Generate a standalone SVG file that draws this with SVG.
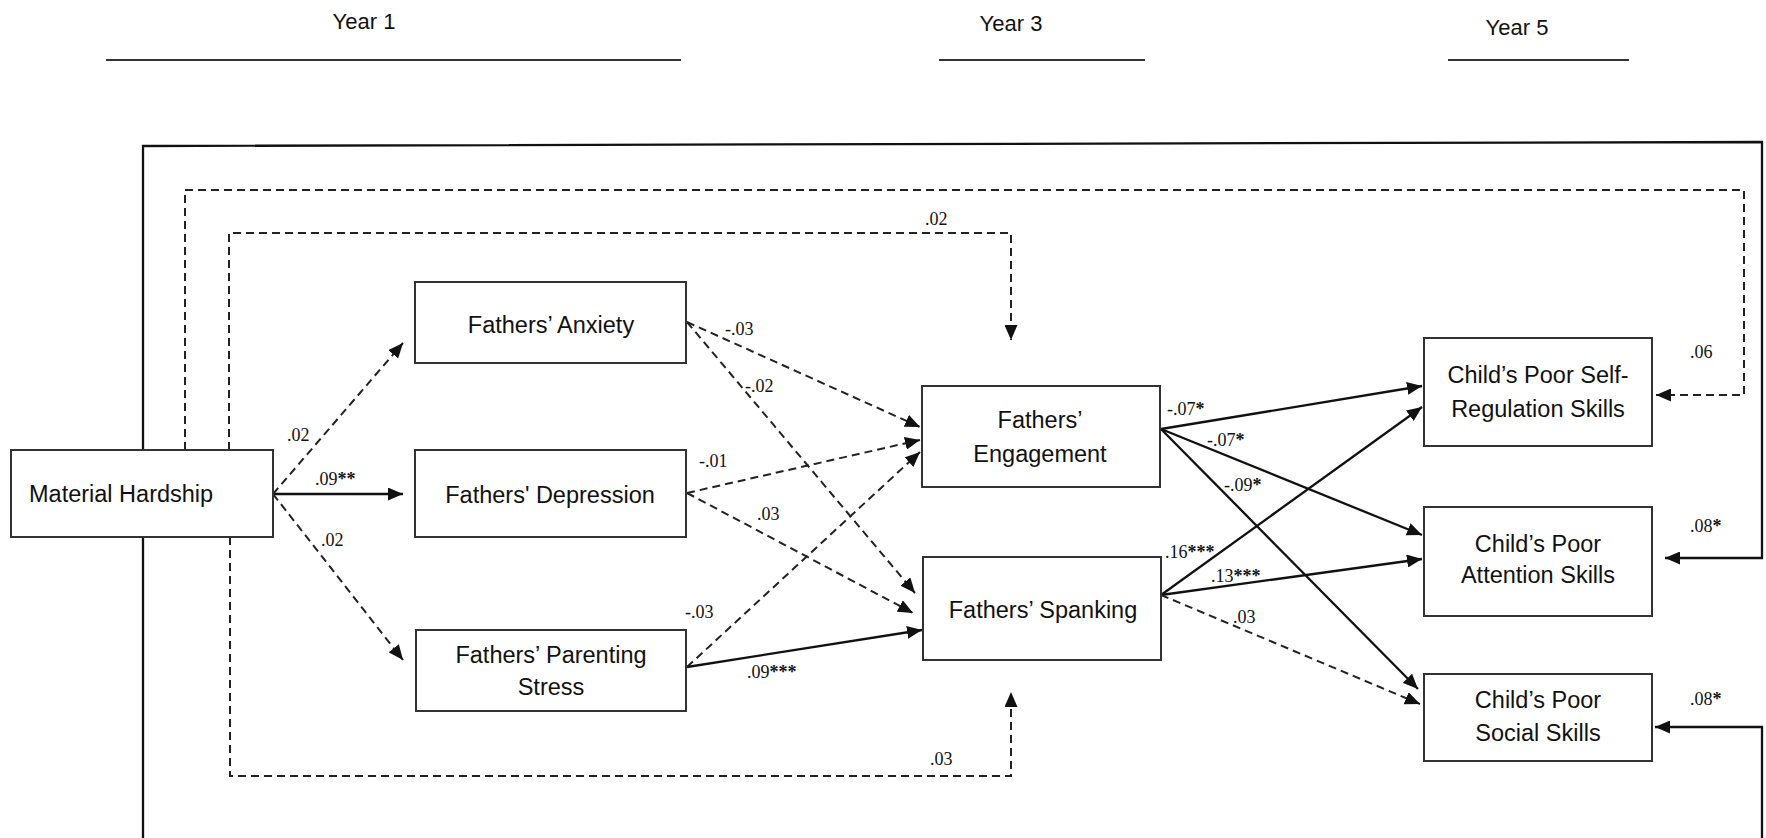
<svg xmlns="http://www.w3.org/2000/svg" width="1766" height="838" viewBox="0 0 1766 838">
<style>
  .box{fill:#fff;stroke:#333;stroke-width:2}
  .nt{font-family:"Liberation Sans",Arial,sans-serif;font-size:23.5px;fill:#111;text-anchor:middle}
  .yr{font-family:"Liberation Sans",Arial,sans-serif;font-size:22px;fill:#111;text-anchor:middle}
  .lb{font-family:"Liberation Serif","Times New Roman",serif;font-size:18px;fill:#111}
  .st{font-weight:bold}
  .s{fill:none;stroke:#111;stroke-width:2.3}
  .d{fill:none;stroke:#222;stroke-width:2;stroke-dasharray:8 5}
  .hl{stroke:#333;stroke-width:2}
</style>
<defs>
  <marker id="ah" markerUnits="userSpaceOnUse" markerWidth="15" markerHeight="13" refX="15" refY="6.5" orient="auto">
    <path d="M0,0 L15,6.5 L0,13 z" fill="#111"/>
  </marker>
</defs>
<rect width="1766" height="838" fill="#fff"/>
<g id="headers">
  <text class="yr" x="364" y="29">Year 1</text>
  <line class="hl" x1="106" y1="60" x2="681" y2="60"/>
  <text class="yr" x="1011" y="31">Year 3</text>
  <line class="hl" x1="939" y1="60" x2="1145" y2="60"/>
  <text class="yr" x="1517" y="35">Year 5</text>
  <line class="hl" x1="1448" y1="60" x2="1629" y2="60"/>
</g>
<g id="connectors">
  <path class="s" d="M143,450 V146 L1762,142 V558 H1665" marker-end="url(#ah)"/>
  <path class="s" d="M143,537 V870 H1762 V727 H1655" marker-end="url(#ah)"/>
  <path class="d" d="M185,450 V190 H1744 V395 H1656" marker-end="url(#ah)"/>
  <path class="d" d="M229,450 V233 H1011 V340" marker-end="url(#ah)"/>
  <path class="d" d="M230,537 V776 H1011 V692" marker-end="url(#ah)"/>
  <line class="s" x1="273" y1="494" x2="403" y2="494" marker-end="url(#ah)"/>
  <line class="d" x1="273" y1="494" x2="403" y2="343" marker-end="url(#ah)"/>
  <line class="d" x1="273" y1="494" x2="403" y2="660" marker-end="url(#ah)"/>
  <line class="d" x1="687" y1="322" x2="920" y2="427" marker-end="url(#ah)"/>
  <line class="d" x1="687" y1="322" x2="915" y2="593" marker-end="url(#ah)"/>
  <line class="d" x1="687" y1="493" x2="920" y2="440" marker-end="url(#ah)"/>
  <line class="d" x1="687" y1="493" x2="913" y2="613" marker-end="url(#ah)"/>
  <line class="d" x1="687" y1="667" x2="920" y2="452" marker-end="url(#ah)"/>
  <line class="s" x1="687" y1="667" x2="922" y2="630" marker-end="url(#ah)"/>
  <line class="s" x1="1161" y1="429" x2="1422" y2="386" marker-end="url(#ah)"/>
  <line class="s" x1="1161" y1="429" x2="1422" y2="535" marker-end="url(#ah)"/>
  <line class="s" x1="1161" y1="429" x2="1418" y2="689" marker-end="url(#ah)"/>
  <line class="s" x1="1161" y1="595" x2="1422" y2="407" marker-end="url(#ah)"/>
  <line class="s" x1="1161" y1="595" x2="1422" y2="559" marker-end="url(#ah)"/>
  <line class="d" x1="1161" y1="595" x2="1420" y2="704" marker-end="url(#ah)"/>
</g>
<g id="labels">
  <text class="lb" x="287" y="441">.02</text>
  <text class="lb" x="315" y="485">.09<tspan class="st">**</tspan></text>
  <text class="lb" x="321" y="546">.02</text>
  <text class="lb" x="725" y="335">-.03</text>
  <text class="lb" x="745" y="392">-.02</text>
  <text class="lb" x="699" y="467">-.01</text>
  <text class="lb" x="757" y="520">.03</text>
  <text class="lb" x="685" y="618">-.03</text>
  <text class="lb" x="747" y="678">.09<tspan class="st">***</tspan></text>
  <text class="lb" x="925" y="225">.02</text>
  <text class="lb" x="930" y="765">.03</text>
  <text class="lb" x="1167" y="415">-.07<tspan class="st">*</tspan></text>
  <text class="lb" x="1207" y="446">-.07<tspan class="st">*</tspan></text>
  <text class="lb" x="1224" y="491">-.09<tspan class="st">*</tspan></text>
  <text class="lb" x="1165" y="558">.16<tspan class="st">***</tspan></text>
  <text class="lb" x="1211" y="582">.13<tspan class="st">***</tspan></text>
  <text class="lb" x="1233" y="623">.03</text>
  <text class="lb" x="1690" y="358">.06</text>
  <text class="lb" x="1690" y="532">.08<tspan class="st">*</tspan></text>
  <text class="lb" x="1690" y="705">.08<tspan class="st">*</tspan></text>
</g>
<g id="material-hardship">
  <rect class="box" x="11" y="450" width="262" height="87"/>
  <text class="nt" x="29" y="502" style="text-anchor:start">Material Hardship</text>
</g>
<g id="fathers-anxiety">
  <rect class="box" x="415" y="282" width="271" height="81"/>
  <text class="nt" x="551" y="333">Fathers’ Anxiety</text>
</g>
<g id="fathers-depression">
  <rect class="box" x="415" y="450" width="271" height="87"/>
  <text class="nt" x="550" y="503">Fathers' Depression</text>
</g>
<g id="fathers-parenting-stress">
  <rect class="box" x="416" y="630" width="270" height="81"/>
  <text class="nt" x="551" y="663">Fathers’ Parenting</text>
  <text class="nt" x="551" y="695">Stress</text>
</g>
<g id="fathers-engagement">
  <rect class="box" x="922" y="386" width="238" height="101"/>
  <text class="nt" x="1040" y="428">Fathers’</text>
  <text class="nt" x="1040" y="462">Engagement</text>
</g>
<g id="fathers-spanking">
  <rect class="box" x="923" y="557" width="238" height="103"/>
  <text class="nt" x="1043" y="618">Fathers’ Spanking</text>
</g>
<g id="self-regulation">
  <rect class="box" x="1424" y="338" width="228" height="108"/>
  <text class="nt" x="1538" y="383">Child’s Poor Self-</text>
  <text class="nt" x="1538" y="417">Regulation Skills</text>
</g>
<g id="attention">
  <rect class="box" x="1424" y="507" width="228" height="109"/>
  <text class="nt" x="1538" y="552">Child’s Poor</text>
  <text class="nt" x="1538" y="583">Attention Skills</text>
</g>
<g id="social">
  <rect class="box" x="1424" y="674" width="228" height="87"/>
  <text class="nt" x="1538" y="708">Child’s Poor</text>
  <text class="nt" x="1538" y="741">Social Skills</text>
</g>
</svg>
